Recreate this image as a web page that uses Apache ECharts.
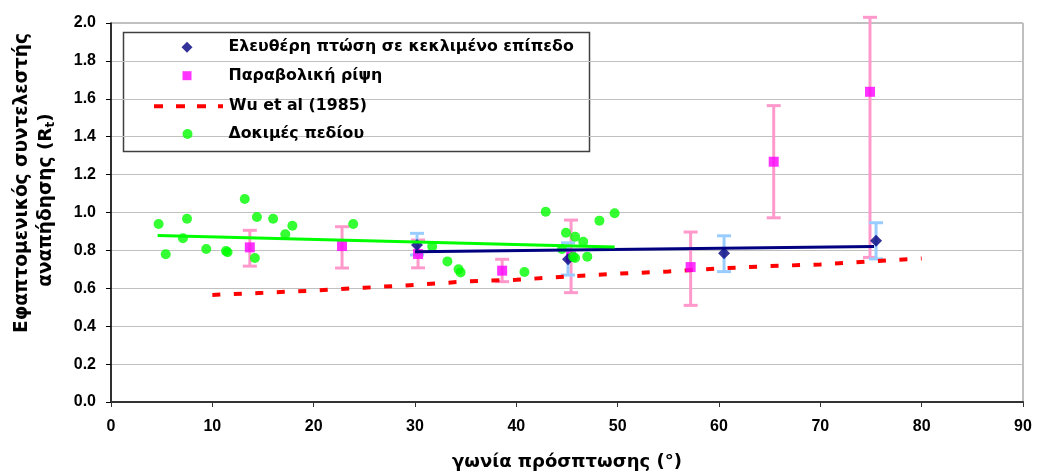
<!DOCTYPE html>
<html>
<head>
<meta charset="utf-8">
<script src="https://cdn.jsdelivr.net/npm/echarts@6/dist/echarts.min.js"></script>
<style>
html,body{margin:0;padding:0;background:#fff;}
#chart{width:1041px;height:475px;}
</style>
</head>
<body>
<div id="chart"></div>
<script>
// ---- data ----
var seriesNames = ['Ελευθέρη πτώση σε κεκλιμένο επίπεδο', 'Παραβολική ρίψη', 'Wu et al (1985)', 'Δοκιμές πεδίου'];

var fallX  = [30.2, 45.1, 60.5, 75.5];
var fallY  = [0.828, 0.753, 0.785, 0.851];
var fallLo = [0.776, 0.670, 0.688, 0.755];
var fallHi = [0.890, 0.840, 0.877, 0.946];

var parabX  = [13.7, 22.8, 30.3, 38.6, 45.4, 57.2, 65.4, 74.9];
var parabY  = [0.816, 0.823, 0.781, 0.693, 0.768, 0.712, 1.268, 1.637];
var parabLo = [0.717, 0.707, 0.708, 0.635, 0.577, 0.510, 0.972, 0.763];
var parabHi = [0.906, 0.925, 0.855, 0.753, 0.960, 0.897, 1.564, 2.030];

var wuX = [10, 15, 20, 25, 30, 35, 40, 45, 50, 55, 60, 65, 70, 75, 80];
var wuY = [0.565, 0.576, 0.588, 0.603, 0.618, 0.636, 0.645, 0.662, 0.677, 0.689, 0.705, 0.717, 0.726, 0.742, 0.757];

var fieldX = [4.7, 5.4, 7.5, 7.1, 9.4, 11.35, 11.5, 13.2, 14.2, 14.4, 16.0, 17.2, 17.9, 23.9,
              31.7, 33.2, 34.3, 34.5, 40.8, 42.9, 44.9, 45.8, 46.6, 44.5, 45.6, 45.8, 47.0, 48.2, 49.7];
var fieldY = [0.939, 0.780, 0.967, 0.864, 0.807, 0.797, 0.790, 1.071, 0.760, 0.976, 0.967, 0.885, 0.930, 0.939,
              0.820, 0.742, 0.700, 0.684, 0.686, 1.004, 0.893, 0.872, 0.846, 0.807, 0.767, 0.760, 0.767, 0.957, 0.996];

var fieldTrendX = [4.6, 49.7];
var fieldTrendY = [0.878, 0.818];
var fallTrendX = [30.0, 75.3];
var fallTrendY = [0.793, 0.820];

var xTicks = [0, 10, 20, 30, 40, 50, 60, 70, 80, 90];
var yTicks = [0.0, 0.2, 0.4, 0.6, 0.8, 1.0, 1.2, 1.4, 1.6, 1.8, 2.0];

// ---- build ----
function zip(a, b) { return a.map(function (v, i) { return [v, b[i]]; }); }
function zip3(a, b, c) { return a.map(function (v, i) { return [v, b[i], c[i]]; }); }

function errRender(color) {
  return function (params, api) {
    var x = api.value(0), lo = api.value(1), hi = api.value(2);
    var p1 = api.coord([x, hi]), p2 = api.coord([x, lo]);
    var hw = 7;
    var st = { stroke: color, lineWidth: 3 };
    return {
      type: 'group',
      children: [
        { type: 'line', shape: { x1: p1[0], y1: p1[1], x2: p2[0], y2: p2[1] }, style: st },
        { type: 'line', shape: { x1: p1[0] - hw, y1: p1[1], x2: p1[0] + hw, y2: p1[1] }, style: st },
        { type: 'line', shape: { x1: p2[0] - hw, y1: p2[1], x2: p2[0] + hw, y2: p2[1] }, style: st }
      ]
    };
  };
}

var FONT = '"Liberation Sans", Arial, sans-serif';
var WFONT = '"DejaVu Sans", sans-serif';
var legendText = { fontFamily: WFONT, fontWeight: 'bold', fontSize: 15.8, color: '#000' };

function mkLegend(item, left, centerY, w, h, padLeft) {
  return {
    data: [item], left: left, top: centerY - 9, orient: 'vertical',
    itemWidth: w, itemHeight: h, padding: 0, selectedMode: false,
    itemStyle: { borderWidth: 0 }, lineStyle: { width: 0 },
    textStyle: Object.assign({ padding: [0, 0, 0, padLeft] }, legendText)
  };
}

var chart = echarts.init(document.getElementById('chart'), null, { renderer: 'canvas' });
var option = {
  animation: false,
  backgroundColor: '#fff',
  grid: { left: 111, right: 18, top: 23, bottom: 73, show: true, borderColor: '#808080', borderWidth: 1 },
  xAxis: {
    type: 'value', min: xTicks[0], max: xTicks[xTicks.length - 1], interval: 10,
    axisLine: { show: true, lineStyle: { color: '#333', width: 2 } },
    axisTick: { show: true, inside: false, length: 5, lineStyle: { color: '#333' } },
    splitLine: { show: false },
    axisLabel: { margin: 17, fontFamily: FONT, fontWeight: 'bold', fontSize: 16, color: '#000' }
  },
  yAxis: {
    type: 'value', min: yTicks[0], max: yTicks[yTicks.length - 1], interval: 0.2,
    axisLine: { show: true, lineStyle: { color: '#000', width: 1.5 } },
    axisTick: { show: true, inside: false, length: 5, lineStyle: { color: '#000' } },
    splitLine: { show: true, lineStyle: { color: '#c0c0c0', width: 1 } },
    axisLabel: { margin: 15, fontFamily: FONT, fontWeight: 'bold', fontSize: 16, color: '#000',
      formatter: function (v) { return v.toFixed(1); } }
  },
  legend: [
    mkLegend({ name: seriesNames[0], icon: 'diamond' }, 181.5, 48.3, 11, 11, 31),
    mkLegend({ name: seriesNames[1], icon: 'rect' }, 182.5, 76.7, 9, 9, 32),
    mkLegend({ name: seriesNames[2], icon: 'path://M0,0H9V4H0Z M22,0H31V4H22Z M43,0H52V4H43Z M64,0H69V4H64Z',
               itemStyle: { color: '#ff0000', borderWidth: 0 } }, 154, 107.3, 69, 4, 1),
    mkLegend({ name: seriesNames[3], icon: 'circle' }, 182.5, 135, 10, 10, 31)
  ],
  graphic: [
    { type: 'rect', z: 0, shape: { x: 123.5, y: 32.5, width: 466, height: 119 },
      style: { fill: '#fff', stroke: '#404040', lineWidth: 1.5 } },
    { type: 'text', x: 22, y: 183, rotation: Math.PI / 2,
      style: { text: 'Εφαπτομενικός συντελεστής', fontFamily: WFONT, fontWeight: 'bold', fontSize: 18.5,
        fill: '#000', textAlign: 'center', textVerticalAlign: 'middle' } },
    { type: 'text', x: 46, y: 200, rotation: Math.PI / 2,
      style: { text: 'αναπήδησης (R{sub|t})', fontFamily: WFONT, fontWeight: 'bold', fontSize: 18.5,
        fill: '#000', textAlign: 'center', textVerticalAlign: 'middle',
        rich: { sub: { fontFamily: WFONT, fontWeight: 'bold', fontSize: 12, verticalAlign: 'bottom', padding: [9, 0, 0, 0] } } } },
    { type: 'text', x: 567, y: 462,
      style: { text: 'γωνία πρόσπτωσης (°)', fontFamily: WFONT, fontWeight: 'bold', fontSize: 18,
        fill: '#000', textAlign: 'center', textVerticalAlign: 'middle' } }
  ],
  series: [
    { type: 'custom', name: 'parabErr', renderItem: errRender('#ff99cc'), data: zip3(parabX, parabLo, parabHi), z: 2, silent: true },
    { type: 'custom', name: 'fallErr', renderItem: errRender('#99ccff'), data: zip3(fallX, fallLo, fallHi), z: 2, silent: true },
    { type: 'line', name: seriesNames[2], data: zip(wuX, wuY), symbol: 'none', z: 3,
      lineStyle: { color: '#ff0000', width: 4, type: [8, 13.5] }, itemStyle: { color: '#ff0000' } },
    { type: 'scatter', name: seriesNames[1], data: zip(parabX, parabY), symbol: 'rect', symbolSize: 10, z: 4,
      itemStyle: { color: '#ff00ff' } },
    { type: 'scatter', name: seriesNames[0], data: zip(fallX, fallY), symbol: 'diamond', symbolSize: 12, z: 5,
      itemStyle: { color: '#000080' } },
    { type: 'scatter', name: seriesNames[3], data: zip(fieldX, fieldY), symbol: 'circle', symbolSize: 10, z: 6,
      itemStyle: { color: '#00ff00' } },
    { type: 'line', name: 'fallTrend', data: zip(fallTrendX, fallTrendY), symbol: 'none', z: 7,
      lineStyle: { color: '#000080', width: 3 } },
    { type: 'line', name: 'fieldTrend', data: zip(fieldTrendX, fieldTrendY), symbol: 'none', z: 7,
      lineStyle: { color: '#00ff00', width: 3 } }
  ]
};
chart.setOption(option);
</script>
</body>
</html>
